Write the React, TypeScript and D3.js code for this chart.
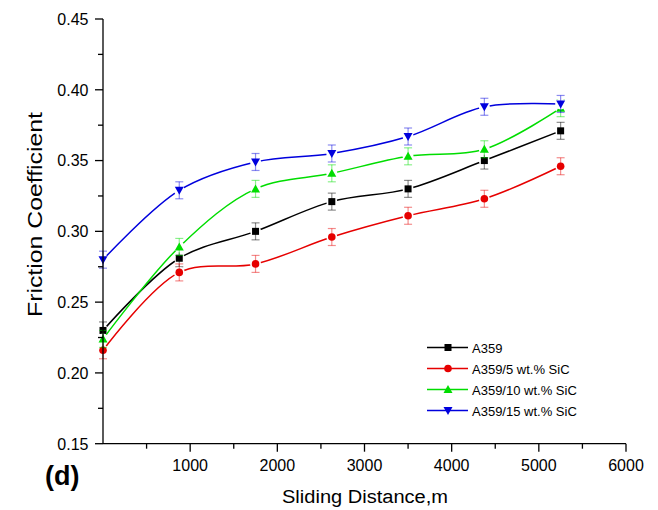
import React from "react";
import * as d3 from "d3";

const distance = [0, 875, 1750, 2625, 3500, 4375, 5250];
const a359 = [0.23, 0.281, 0.3, 0.321, 0.33, 0.35, 0.371];
const sic5 = [0.216, 0.271, 0.277, 0.296, 0.311, 0.323, 0.346];
const sic10 = [0.224, 0.289, 0.33, 0.341, 0.353, 0.358, 0.387];
const sic15 = [0.28, 0.329, 0.349, 0.355, 0.367, 0.388, 0.39];
const errA359 = [0.006, 0.006, 0.006, 0.006, 0.006, 0.006, 0.006];
const errSic5 = [0.006, 0.006, 0.006, 0.006, 0.006, 0.006, 0.006];
const errSic10 = [0.006, 0.006, 0.006, 0.006, 0.006, 0.006, 0.006];
const errSic15 = [0.006, 0.006, 0.006, 0.006, 0.006, 0.006, 0.006];
const seriesNames = ["A359", "A359/5 wt.% SiC", "A359/10 wt.% SiC", "A359/15 wt.% SiC"];
const xTicks = [1000, 2000, 3000, 4000, 5000, 6000];
const yTicks = [0.15, 0.2, 0.25, 0.3, 0.35, 0.4, 0.45];

const colors = ["#000000", "#e60000", "#00dd00", "#0000dd"];
const markers = ["square", "circle", "triangle", "triangleDown"];

const series = [
  { name: seriesNames[0], values: a359, err: errA359 },
  { name: seriesNames[1], values: sic5, err: errSic5 },
  { name: seriesNames[2], values: sic10, err: errSic10 },
  { name: seriesNames[3], values: sic15, err: errSic15 },
];

const font = "Arial, 'Liberation Sans', sans-serif";

function Marker({ type, x, y, color }: { type: string; x: number; y: number; color: string }) {
  if (type === "square") return <rect x={x - 3.5} y={y - 3.5} width={7} height={7} fill={color} />;
  if (type === "circle") return <circle cx={x} cy={y} r={3.8} fill={color} />;
  if (type === "triangle")
    return <path d={`M${x},${y - 4.5}L${x + 4.5},${y + 3.5}L${x - 4.5},${y + 3.5}Z`} fill={color} />;
  return <path d={`M${x},${y + 4.5}L${x + 4.5},${y - 3.5}L${x - 4.5},${y - 3.5}Z`} fill={color} />;
}

export default function App() {
  const W = 658;
  const H = 510;
  const x = d3.scaleLinear().domain([0, 6000]).range([103, 626]);
  const y = d3.scaleLinear().domain([0.15, 0.45]).range([443.7, 19]);
  const line = d3
    .line<number>()
    .x((_, i) => x(distance[i]))
    .y((v) => y(v))
    .curve(d3.curveCatmullRom.alpha(0.5));

  const xMinor = d3.range(500, 6000, 1000);
  const yMinor = d3.range(0.175, 0.45, 0.05);
  const x0 = x(0);
  const yb = y(0.15);

  return (
    <svg width={W} height={H} style={{ position: "absolute", left: 0, top: 0, background: "#fff" }}>
      <rect width={W} height={H} fill="#fff" />
      {/* series */}
      {series.map((s, si) => (
        <g key={s.name}>
          <path d={line(s.values) || ""} fill="none" stroke={colors[si]} strokeWidth={1.5} />
          {s.values.map((v, i) => (
            <circle key={"h" + i} cx={x(distance[i])} cy={y(v)} r={5.5} fill="#fff" />
          ))}
          {s.values.map((v, i) => {
            const cx = x(distance[i]);
            const top = y(v + s.err[i]);
            const bot = y(v - s.err[i]);
            return (
              <g key={"e" + i} stroke={colors[si]} strokeOpacity={0.45} strokeWidth={1.2}>
                <line x1={cx} x2={cx} y1={top} y2={bot} />
                <line x1={cx - 4} x2={cx + 4} y1={top} y2={top} />
                <line x1={cx - 4} x2={cx + 4} y1={bot} y2={bot} />
              </g>
            );
          })}
          {s.values.map((v, i) => (
            <Marker key={"m" + i} type={markers[si]} x={x(distance[i])} y={y(v)} color={colors[si]} />
          ))}
        </g>
      ))}

      {/* axes */}
      <g stroke="#000" strokeWidth={1.3}>
        <line x1={x0} x2={x0} y1={y(0.45)} y2={yb} />
        <line x1={x0} x2={x(6000)} y1={yb} y2={yb} />
        {yTicks.map((t) => (
          <line key={"yt" + t} x1={x0 - 8} x2={x0} y1={y(t)} y2={y(t)} />
        ))}
        {yMinor.map((t) => (
          <line key={"ym" + t} x1={x0 - 5} x2={x0} y1={y(t)} y2={y(t)} />
        ))}
        {xTicks.map((t) => (
          <line key={"xt" + t} x1={x(t)} x2={x(t)} y1={yb} y2={yb + 8} />
        ))}
        {xMinor.map((t) => (
          <line key={"xm" + t} x1={x(t)} x2={x(t)} y1={yb} y2={yb + 5} />
        ))}
      </g>
      <g fontFamily={font} fontSize={16} fill="#000">
        {yTicks.map((t) => (
          <text key={"yl" + t} x={x0 - 14.5} y={y(t) + 5.8} textAnchor="end">
            {t.toFixed(2)}
          </text>
        ))}
        {xTicks.map((t) => (
          <text key={"xl" + t} x={x(t)} y={yb + 27} textAnchor="middle">
            {t}
          </text>
        ))}
      </g>
      <text
        fontFamily={font}
        fontSize={19.5}
        textAnchor="middle"
        textLength={205}
        lengthAdjust="spacingAndGlyphs"
        transform={`translate(42,214.5) rotate(-90)`}
      >
        Friction Coefficient
      </text>
      <text
        fontFamily={font}
        fontSize={18}
        textAnchor="middle"
        textLength={166}
        lengthAdjust="spacingAndGlyphs"
        x={365}
        y={503}
      >
        Sliding Distance,m
      </text>
      <text fontFamily={font} fontSize={27} fontWeight="bold" x={45} y={485}>
        (d)
      </text>

      {/* legend */}
      {series.map((s, si) => {
        const ly = 347.5 + si * 21;
        return (
          <g key={"lg" + si}>
            <line x1={427} x2={468} y1={ly} y2={ly} stroke={colors[si]} strokeWidth={1.5} />
            <Marker type={markers[si]} x={448} y={ly} color={colors[si]} />
            <text x={472} y={ly + 5} fontFamily={font} fontSize={13}>
              {s.name}
            </text>
          </g>
        );
      })}
    </svg>
  );
}
